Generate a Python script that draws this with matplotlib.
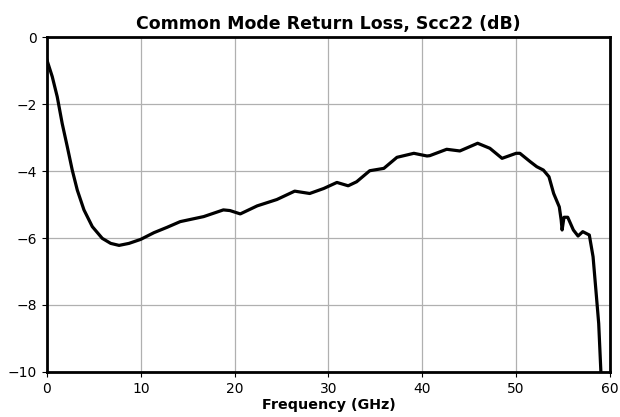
import matplotlib

matplotlib.use("Agg")
import matplotlib.pyplot as plt
import numpy as np

# ----- data -----
freq_ghz = [0.0, 0.56, 1.09, 1.62, 2.16, 2.69, 3.23, 3.94, 4.83, 5.89, 6.79,
            7.68, 8.74, 9.99, 11.4, 12.8, 14.2, 16.7, 18.8, 19.5, 20.6, 22.4,
            24.5, 26.4, 28.0, 29.5, 30.9, 32.1, 33.0, 34.4, 35.9, 37.3, 39.1,
            40.5, 40.8, 42.6, 44.0, 45.9, 47.2, 48.5, 50.0, 50.4, 51.5, 52.2,
            52.9, 53.5, 54.0, 54.6, 54.8, 54.9, 55.1, 55.5, 56.1, 56.6, 57.1,
            57.8, 58.2, 58.5, 58.8, 59.05]
scc22_db = [-0.69, -1.18, -1.78, -2.58, -3.27, -3.97, -4.57, -5.16, -5.66, -6.01,
            -6.16, -6.22, -6.16, -6.04, -5.84, -5.68, -5.51, -5.36, -5.16, -5.18,
            -5.28, -5.04, -4.85, -4.60, -4.67, -4.52, -4.34, -4.44, -4.32, -3.99,
            -3.92, -3.59, -3.47, -3.55, -3.54, -3.35, -3.40, -3.17, -3.32, -3.62,
            -3.47, -3.47, -3.72, -3.87, -3.97, -4.17, -4.67, -5.07, -5.46, -5.76,
            -5.38, -5.38, -5.76, -5.94, -5.81, -5.91, -6.56, -7.55, -8.55, -10.1]
x_ticks = [0, 10, 20, 30, 40, 50, 60]
y_ticks = [0, -2, -4, -6, -8, -10]

fig = plt.figure(figsize=(6.2, 4.17), dpi=100)
ax = fig.add_axes([0.0758, 0.108, 0.908, 0.803])
ax.plot(freq_ghz, scc22_db, color="black", lw=2.3, solid_joinstyle="round")
ax.set_xlim(0, 60)
ax.set_ylim(-10, 0)
ax.set_xticks(x_ticks)
ax.set_yticks(y_ticks)
ax.grid(True, color="#b0b0b0", lw=0.9)
for sp in ax.spines.values():
    sp.set_linewidth(2.0)
ax.tick_params(labelsize=10)
ax.set_title("Common Mode Return Loss, Scc22 (dB)", fontsize=12.5, fontweight="bold", pad=6)
ax.set_xlabel("Frequency (GHz)", fontsize=10.3, fontweight="bold", labelpad=2)
fig.savefig("out.png", dpi=100)
